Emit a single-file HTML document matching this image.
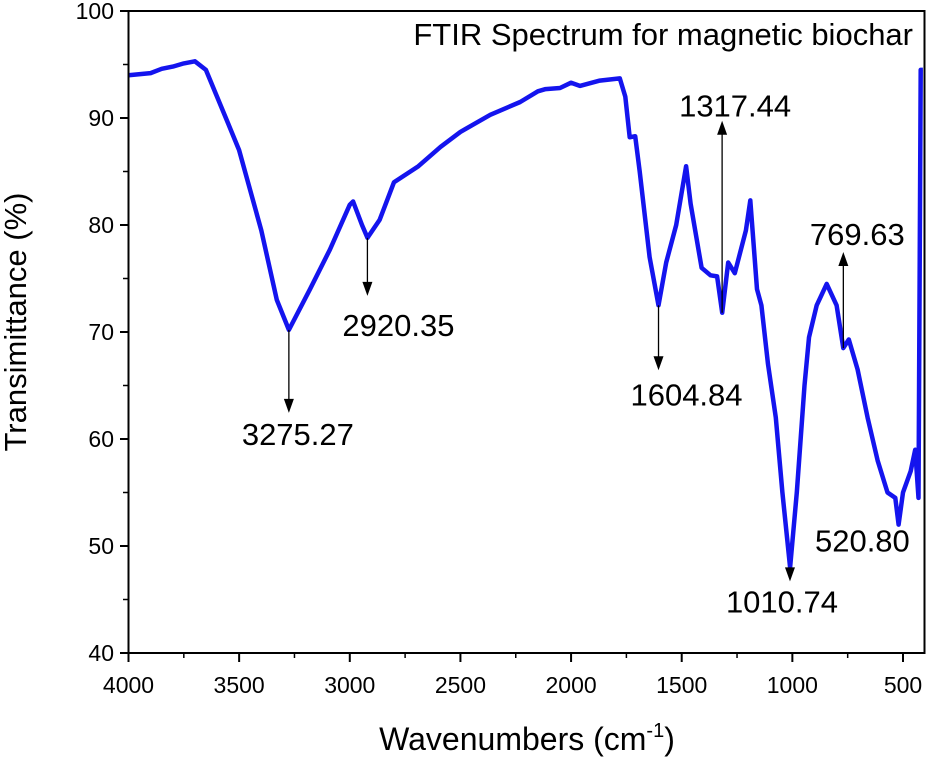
<!DOCTYPE html>
<html><head><meta charset="utf-8"><style>
body{margin:0;background:#fff}
svg text{font-family:"Liberation Sans",Arial,sans-serif;fill:#000}
</style></head><body>
<svg id="chart" width="926" height="758" viewBox="0 0 926 758" xmlns="http://www.w3.org/2000/svg">
<g id="plot"></g>
<rect x="128.5" y="11" width="796" height="642" fill="none" stroke="#000" stroke-width="2"/>
<text x="913" y="45" font-size="31" text-anchor="end">FTIR Spectrum for magnetic biochar</text>
<text x="527" y="750" font-size="32" text-anchor="middle">Wavenumbers (cm<tspan font-size="20" dy="-13">-1</tspan><tspan dy="13">)</tspan></text>
<text transform="translate(26,322) rotate(-90)" font-size="31" text-anchor="middle">Transimittance (%)</text>
</svg>
<script>
const wavenumbers=[4000,3900,3850,3800,3750,3700,3650,3600,3550,3500,3400,3330,3275,3180,3090,3000,2985,2945,2920,2865,2800,2690,2590,2500,2365,2230,2150,2115,2050,2000,1960,1870,1780,1755,1735,1710,1690,1645,1605,1570,1525,1480,1460,1410,1370,1340,1317,1290,1260,1210,1190,1160,1140,1110,1075,1045,1010,980,945,925,890,845,800,770,745,705,660,615,570,535,520,500,465,445,430,420,410];
const transmittance=[94,94.2,94.6,94.8,95.1,95.3,94.5,92,89.5,87,79.5,73,70.2,74,77.7,81.9,82.2,80,78.8,80.5,84,85.5,87.3,88.7,90.3,91.5,92.5,92.7,92.8,93.3,93,93.5,93.7,92,88.2,88.3,85,77,72.5,76.5,80,85.5,82,76,75.3,75.2,71.8,76.5,75.5,79.5,82.3,74,72.5,67,62,55,48,55,65,69.5,72.5,74.5,72.5,68.5,69.3,66.5,62,58,55,54.5,52,55,57,59,54.5,94.5,94.5];
const yTicks=[40,50,60,70,80,90,100];
const xTicks=[4000,3500,3000,2500,2000,1500,1000,500];
const peakLabels=["3275.27","2920.35","1604.84","1317.44","1010.74","769.63","520.80"];
const peakWn=[3275.27,2920.35,1604.84,1317.44,1010.74,769.63,520.80];
const peakT=[70.2,78.8,72.5,71.8,48,68.5,52];

const X=w=>128.5+(4000-w)*(903-128.5)/3500;
const Y=t=>653-(t-40)*(642/60);
const NS="http://www.w3.org/2000/svg";
const g=document.getElementById('plot');
function mk(tag,attrs){const e=document.createElementNS(NS,tag);for(const k in attrs)e.setAttribute(k,attrs[k]);g.appendChild(e);return e;}

yTicks.forEach((t,i)=>{
 const l=mk('line',{x1:120,x2:128.5,y1:Y(t),y2:Y(t),stroke:'#000','stroke-width':2});
 
 
 if(i<yTicks.length-1){const m=mk('line',{x1:123,x2:128.5,y1:Y(t+5),y2:Y(t+5),stroke:'#000','stroke-width':1.5});
 
 }
 const tx=mk('text',{x:114,y:Y(t)+8,'font-size':23,'text-anchor':'end'});tx.textContent=t;
 
 
});
xTicks.forEach(w=>{
 const l=mk('line',{x1:X(w),x2:X(w),y1:653,y2:662,stroke:'#000','stroke-width':2});
 
 
 if(w>500){const m=mk('line',{x1:X(w-250),x2:X(w-250),y1:653,y2:658,stroke:'#000','stroke-width':1.5});
 
 }
 const tx=mk('text',{x:X(w),y:693,'font-size':23,'text-anchor':'middle'});tx.textContent=w;
 
 
});
const d=wavenumbers.map((w,i)=>(i?'L':'M')+X(w).toFixed(1)+','+Y(transmittance[i]).toFixed(1)).join(' ');
const p=mk('path',{d:d,fill:'none',stroke:'#1414ee','stroke-width':4.5,'stroke-linejoin':'round'});



const dirs=[1,1,1,-1,1,-1,0];
const lens=[83,58,65,192,14,96,0];
const lblDx=[9,31,28,13,-8,14,-36];
const lblDy=[115,98,100,-196,45,-103,27];
peakWn.forEach((w,i)=>{
 const x=X(w),y=Y(peakT[i]);
 if(dirs[i]!==0){
  const ye=y+dirs[i]*lens[i];
  const a=mk('line',{x1:x,y1:y,x2:x,y2:ye-dirs[i]*12,stroke:'#000','stroke-width':1.3});
  
  
  const h=mk('polygon',{points:`${x-5},${ye-dirs[i]*14} ${x+5},${ye-dirs[i]*14} ${x},${ye}`,fill:'#000'});
  
  
 }
 const t=mk('text',{x:x+lblDx[i],y:y+lblDy[i],'font-size':31,'text-anchor':'middle'});t.textContent=peakLabels[i];
 
 
});
</script>
</body></html>
